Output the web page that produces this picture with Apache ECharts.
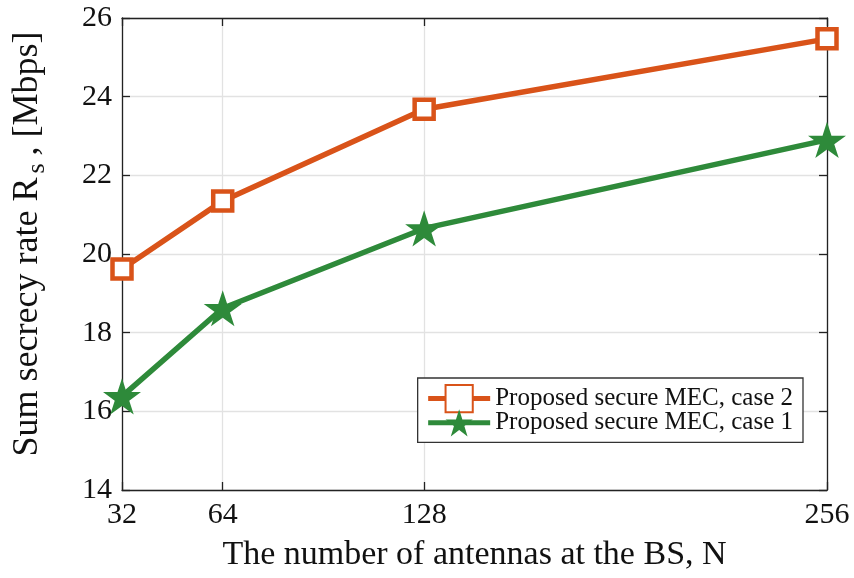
<!DOCTYPE html>
<html>
<head>
<meta charset="utf-8">
<script src="https://cdn.jsdelivr.net/npm/echarts@6/dist/echarts.min.js"></script>
<style>
  html, body { margin: 0; padding: 0; background: #fff; }
  #chart { width: 854px; height: 578px; }
</style>
</head>
<body>
<div id="chart"></div>
<script>
// Number of BS antennas
const antennas = [32, 64, 128, 256];
// Sum secrecy rate [Mbps]
const case2Rates = [19.62, 21.35, 23.68, 25.47];
const case1Rates = [16.38, 18.62, 20.65, 22.90];
const yTicks = [14, 16, 18, 20, 22, 24, 26];

const FONT = 'Liberation Serif, Times New Roman, serif';
const STAR = 'path://M50,0 L61.2,34.5 L97.6,34.5 L68.2,55.9 L79.4,90.5 L50,69.1 L20.6,90.5 L31.8,55.9 L2.4,34.5 L38.8,34.5 Z';
const ORANGE = '#D95319';
const GREEN = '#2E8A3A';

const chart = echarts.init(document.getElementById('chart'), null, { renderer: 'canvas' });

const axisLineStyle = { color: '#222', width: 1.3 };
const gridLine = { show: true, lineStyle: { color: '#e2e2e2', width: 1.3 } };

chart.setOption({
  animation: false,
  backgroundColor: '#fff',
  grid: { left: 122, right: 27, top: 18, bottom: 88 },
  legend: {
    right: 51, top: 378,
    orient: 'vertical',
    itemWidth: 62, itemHeight: 34, itemGap: -4,
    borderColor: '#333', borderWidth: 1.3, borderRadius: 0,
    padding: [6, 10, 6, 8],
    backgroundColor: '#fff',
    lineStyle: { width: 5 },
    textStyle: { fontFamily: FONT, fontSize: 25, color: '#111' },
    data: [
      { name: 'Proposed secure MEC, case 2' },
      { name: 'Proposed secure MEC, case 1' }
    ]
  },
  xAxis: [{
    type: 'value', min: 32, max: 256,
    name: 'The number of antennas at the BS, N',
    nameLocation: 'middle', nameGap: 48,
    nameTextStyle: { fontFamily: FONT, fontSize: 34, color: '#111' },
    axisLine: { show: true, onZero: false, lineStyle: axisLineStyle },
    axisTick: { show: true, inside: true, length: 8, customValues: antennas, lineStyle: axisLineStyle },
    axisLabel: { customValues: antennas, fontFamily: FONT, fontSize: 30, color: '#111', margin: 10 },
    splitLine: gridLine
  }, {
    type: 'value', min: 32, max: 256, position: 'top',
    axisLine: { show: true, onZero: false, lineStyle: axisLineStyle },
    axisTick: { show: true, inside: true, length: 8, customValues: antennas, lineStyle: axisLineStyle },
    axisLabel: { show: false, customValues: antennas },
    splitLine: { show: false }
  }],
  yAxis: [{
    type: 'value', min: 14, max: 26, interval: 2,
    name: '{b|Sum secrecy rate R}{s|s}{a|, [Mbps]}',
    nameLocation: 'middle', nameGap: 72,
    nameTextStyle: {
      fontFamily: FONT, fontSize: 36, color: '#111',
      rich: {
        b: { fontFamily: FONT, fontSize: 36, color: '#111', padding: [0, 0, 0, 20] },
        a: { fontFamily: FONT, fontSize: 36, color: '#111' },
        s: { fontFamily: FONT, fontSize: 26, color: '#111', verticalAlign: 'bottom', padding: [18, 8, 0, 4] }
      }
    },
    axisLine: { show: true, onZero: false, lineStyle: axisLineStyle },
    axisTick: { show: true, inside: true, length: 8, lineStyle: axisLineStyle },
    axisLabel: { fontFamily: FONT, fontSize: 30, color: '#111', margin: 10,
      formatter: v => yTicks.includes(v) ? String(v) : '' },
    splitLine: gridLine
  }, {
    type: 'value', min: 14, max: 26, interval: 2, position: 'right',
    axisLine: { show: true, onZero: false, lineStyle: axisLineStyle },
    axisTick: { show: true, inside: true, length: 8, lineStyle: axisLineStyle },
    axisLabel: { show: false },
    splitLine: { show: false }
  }],
  series: [{
    name: 'Proposed secure MEC, case 2',
    type: 'line',
    data: antennas.map((n, i) => [n, case2Rates[i]]),
    symbol: 'rect', symbolSize: 19,
    lineStyle: { color: ORANGE, width: 5.5 },
    itemStyle: { color: '#fff', borderColor: ORANGE, borderWidth: 4.5 },
    z: 3
  }, {
    name: 'Proposed secure MEC, case 1',
    type: 'line',
    data: antennas.map((n, i) => [n, case1Rates[i]]),
    symbol: STAR, symbolSize: 38, symbolKeepAspect: true,
    lineStyle: { color: GREEN, width: 5.5 },
    itemStyle: { color: GREEN, borderColor: GREEN, borderWidth: 0 },
    z: 3
  }]
});
</script>
</body>
</html>
